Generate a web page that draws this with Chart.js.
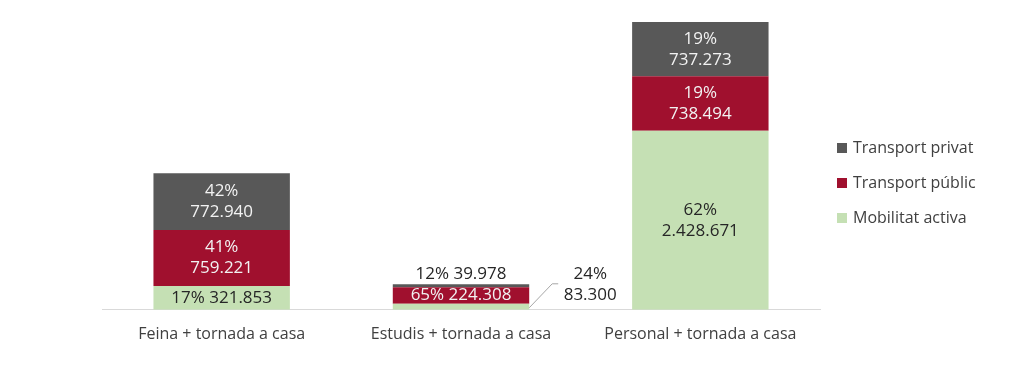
<!DOCTYPE html>
<html>
<head>
<meta charset="utf-8">
<script src="https://cdn.jsdelivr.net/npm/chart.js@4"></script>
<style>
  body { margin: 0; background: #fff; }
  #wrap { width: 1024px; height: 382px; }
</style>
</head>
<body>
<div id="wrap"><canvas id="myChart"></canvas></div>
<script>
var categories = ["Feina + tornada a casa", "Estudis + tornada a casa", "Personal + tornada a casa"];
var mobilitatActiva = [321853, 83300, 2428671];
var transportPublic = [759221, 224308, 738494];
var transportPrivat = [772940, 39978, 737273];

var seriesNames = ["Mobilitat activa", "Transport públic", "Transport privat"];
var seriesColors = ["#c5e0b4", "#a0102e", "#585858"];
var labelColors = ["#262626", "#f2f2f2", "#f2f2f2"];

var totals = categories.map(function (c, i) {
  return mobilitatActiva[i] + transportPublic[i] + transportPrivat[i];
});
var maxTotal = Math.max.apply(null, totals);

var FONT = "'Open Sans', sans-serif";

function fmt(v) {
  return v.toString().replace(/\B(?=(\d{3})+(?!\d))/g, ".");
}

// etiquetes de valor dins/fora de les barres
var barLabels = {
  id: "barLabels",
  afterDatasetsDraw: function (chart) {
    var ctx = chart.ctx;
    ctx.save();
    ctx.font = "17px " + FONT;
    ctx.textAlign = "center";
    ctx.textBaseline = "middle";
    var nSets = chart.data.datasets.length;
    chart.data.datasets.forEach(function (ds, di) {
      var meta = chart.getDatasetMeta(di);
      meta.data.forEach(function (el, i) {
        var v = ds.data[i];
        var pct = Math.round(v / totals[i] * 100) + "%";
        var num = fmt(v);
        var top = el.y, bottom = el.base, h = bottom - top;
        var cy = (top + bottom) / 2;
        if (h >= 40) {
          ctx.fillStyle = labelColors[di];
          ctx.fillText(pct, el.x, cy - 10.5);
          ctx.fillText(num, el.x, cy + 10.5);
        } else if (h >= 12) {
          ctx.fillStyle = labelColors[di];
          ctx.fillText(pct + " " + num, el.x, cy);
        } else if (di === nSets - 1) {
          ctx.fillStyle = "#262626";
          ctx.fillText(pct + " " + num, el.x, top - 10);
        } else {
          // callout a la dreta
          var rx = el.x + el.width / 2;
          ctx.strokeStyle = "#a6a6a6";
          ctx.lineWidth = 1;
          ctx.beginPath();
          ctx.moveTo(rx, bottom - 2);
          ctx.lineTo(rx + 23, bottom - 26);
          ctx.lineTo(rx + 29, bottom - 26);
          ctx.stroke();
          ctx.fillStyle = "#262626";
          ctx.fillText(pct, rx + 61, bottom - 36);
          ctx.fillText(num, rx + 61, bottom - 15);
        }
      });
    });
    ctx.restore();
  }
};

// llegenda a la dreta
var sideLegend = {
  id: "sideLegend",
  afterDraw: function (chart) {
    var ctx = chart.ctx;
    ctx.save();
    ctx.font = "16px " + FONT;
    ctx.textAlign = "left";
    ctx.textBaseline = "middle";
    var order = [2, 1, 0];
    order.forEach(function (di, k) {
      var y = 148 + k * 35;
      ctx.fillStyle = seriesColors[di];
      ctx.fillRect(837, y - 5, 10, 10);
      ctx.fillStyle = "#404040";
      ctx.fillText(seriesNames[di], 853, y);
    });
    ctx.restore();
  }
};

var ctx = document.getElementById("myChart");
var myChart = new Chart(ctx, {
  type: "bar",
  data: {
    labels: categories,
    datasets: [
      { label: seriesNames[0], data: mobilitatActiva, backgroundColor: seriesColors[0] },
      { label: seriesNames[1], data: transportPublic, backgroundColor: seriesColors[1] },
      { label: seriesNames[2], data: transportPrivat, backgroundColor: seriesColors[2] },
    ],
  },
  options: {
    responsive: true,
    maintainAspectRatio: false,
    animation: false,
    datasets: {
      bar: { categoryPercentage: 1, barPercentage: 0.57 },
    },
    layout: {
      padding: { left: 102, right: 204, top: 22, bottom: 31 },
    },
    scales: {
      x: {
        stacked: true,
        grid: { display: false },
        border: { display: true, color: "#d9d9d9" },
        ticks: { color: "#404040", font: { family: FONT, size: 16 }, padding: 7 },
      },
      y: {
        stacked: true,
        display: false,
        min: 0,
        max: maxTotal,
      },
    },
    plugins: {
      legend: { display: false },
      tooltip: { enabled: false },
    },
  },
  plugins: [barLabels, sideLegend],
});
</script>
</body>
</html>
